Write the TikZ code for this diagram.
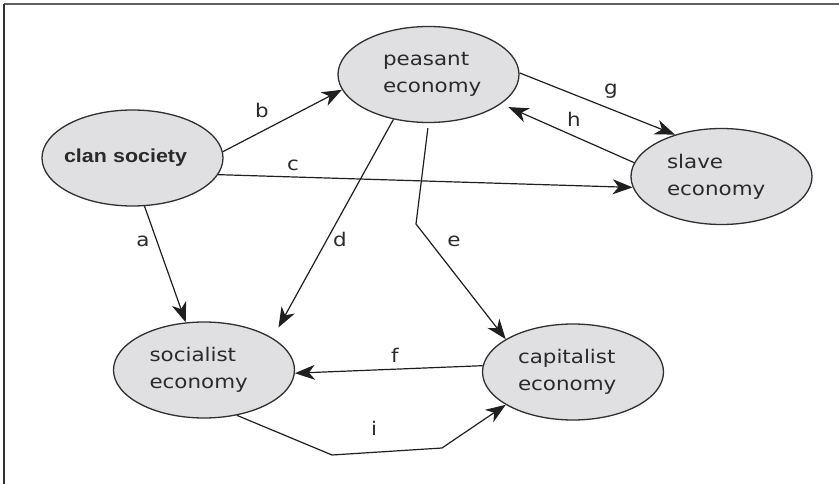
\documentclass[tikz,border=0pt]{standalone}
\usepackage{fontspec}
\setmainfont[FakeStretch=1.14]{DejaVu Sans}
\newfontfamily\clanfont[FakeStretch=1.14]{Liberation Sans Bold}
\usetikzlibrary{shapes.geometric,arrows.meta}
\definecolor{nodefill}{HTML}{E0E0E2}
\definecolor{nodeedge}{HTML}{303030}
\definecolor{inktext}{HTML}{2A2A2A}
\definecolor{frameline}{HTML}{606060}
\tikzset{
  econ/.style={ellipse, draw=nodeedge, fill=nodefill, line width=1.3pt,
    minimum width=181pt, minimum height=96pt, inner sep=-25pt, align=left,
    text=inktext, font=\fontsize{18.8}{26.7}\selectfont},
  conn/.style={draw=black!88, line width=1.2pt,
    -{Stealth[length=20pt,width=15pt,inset=6pt]}},
  lbl/.style={anchor=base, inner sep=0pt, text=inktext, font=\fontsize{18.8}{26.7}\selectfont}
}
\begin{document}
\begin{tikzpicture}[x=1pt,y=-1pt]
\useasboundingbox (0,0) rectangle (839,484);
% frame
\draw[frameline, line width=1.6pt] (4,4) -- (839,4);
\draw[nodeedge, line width=1.2pt] (4,4) -- (4,484);
% nodes
\node[econ, text width=137pt] (clan) at (132.5,158) {\clanfont\mbox{clan society}};
\node[econ, text width=91pt] (peasant) at (428.5,74.5) {\mbox{peasant}\\\mbox{economy}};
\node[econ, text width=109pt] (slave) at (721.5,176.5) {\mbox{slave}\\\mbox{economy}};
\node[econ, text width=109pt] (socialist) at (204,370) {\mbox{socialist}\\\mbox{economy}};
\node[econ, text width=110pt] (capitalist) at (573,372) {\mbox{capitalist}\\\mbox{economy}};
% connectors
\draw[conn] (clan.-76) -- (socialist.111.2);
\draw[conn] (clan.4.4) -- (peasant.190.6);
\draw[conn] (clan.-11.8) -- (slave.187.3);
\draw[conn, shorten >=12pt] (peasant.232.5) -- (socialist.25.7);
\draw[conn, shorten <=5pt] (peasant.-90) -- (416,224) -- (capitalist.154.8);
\draw[conn] (capitalist.176.3) -- (socialist.-2.5);
\draw[conn] (peasant.1.3) -- (slave.138.4);
\draw[conn, shorten >=8pt] (slave.171.4) -- (peasant.-22.9);
\draw[conn] (socialist.-54.8) -- (332,455) -- (442,448) -- (capitalist.206.9);
% labels
\node[lbl] (la) at (143,247) {a};
\node[lbl] (lb) at (262,118) {b};
\node[lbl] (lc) at (293,171) {c};
\node[lbl] (ld) at (340,247) {d};
\node[lbl] (le) at (454,247) {e};
\node[lbl] (lf) at (395,362) {f};
\node[lbl] (lg) at (611,95) {g};
\node[lbl] (lh) at (574,127) {h};
\node[lbl] (li) at (374,435) {i};
\end{tikzpicture}
\end{document}
